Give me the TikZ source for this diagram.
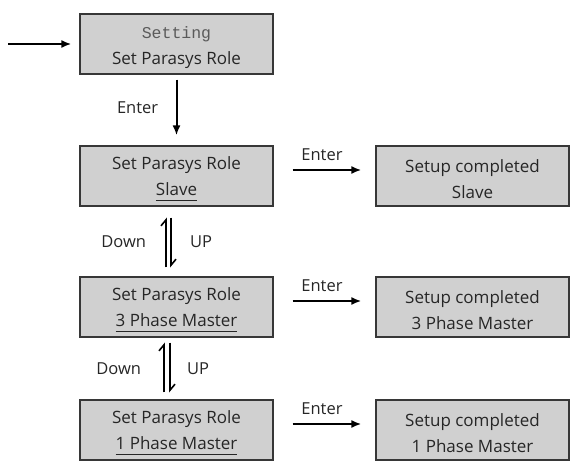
\documentclass[tikz,border=0pt]{standalone}
\usepackage{fontspec}
\setmainfont{Open Sans}
\newfontfamily\lcdfont{Liberation Mono}
\usetikzlibrary{arrows.meta,positioning}
\definecolor{panel}{RGB}{208,208,208}
\definecolor{frame}{RGB}{55,55,55}
\definecolor{lcdgray}{RGB}{90,90,90}
\newcommand{\rolesel}[1]{\underline{#1\vphantom{gp}}}
\newcommand{\toprow}{\rule{0pt}{18.5pt}}

\begin{document}
\begin{tikzpicture}[x=1pt,y=-1pt,
  menu/.style={draw=frame,line width=1.2pt,fill=panel,minimum width=193pt,minimum height=60pt,
               inner sep=0pt,align=center,font=\fontsize{17}{26}\selectfont,text=black!85},
  go/.style={-{Latex[length=10pt,width=8pt]},line width=2pt},
  flip/.style={-{Straight Barb[harpoon,length=6pt,width=10pt]},line width=1.6pt},
  lbl/.style={font=\fontsize{16.5}{18}\selectfont,text=black!85}]

  \useasboundingbox (0,0) rectangle (579,471);

  % menu column
  \node[menu] (setting) at (176.5,44)  {\toprow{\lcdfont\fontsize{16.5}{26}\selectfont\color{lcdgray}Setting}\\Set Parasys Role};
  \node[menu] (slave)   at (176.5,176) {\toprow Set Parasys Role\\\rolesel{Slave}};
  \node[menu] (three)   at (176.5,307) {\toprow Set Parasys Role\\\rolesel{3 Phase Master}};
  \node[menu] (one)     at (176.5,430) {\toprow Set Parasys Role\\\rolesel{1 Phase Master}};

  % result column
  \node[menu] (doneslave) at (472.5,176) {\toprow Setup completed\\Slave};
  \node[menu] (donethree) at (472.5,307) {\toprow Setup completed\\3 Phase Master};
  \node[menu] (doneone)   at (472.5,430) {\toprow Setup completed\\1 Phase Master};

  \coordinate (entry) at (8,44);
  \draw[go] (entry) -- ([xshift=-8pt]setting.west);
  \draw[go] ([yshift=-5pt]setting.south) -- ([yshift=10pt]slave.north)
        node[midway,left=14pt,lbl] {Enter};

  \draw[go] ([xshift=19pt,yshift=6pt]slave.east) -- ([xshift=-14pt,yshift=6pt]doneslave.west)
        node[midway,above=5pt,xshift=-5pt,lbl] {Enter};
  \draw[go] ([xshift=19pt,yshift=6pt]three.east) -- ([xshift=-14pt,yshift=6pt]donethree.west)
        node[midway,above=5pt,xshift=-5pt,lbl] {Enter};
  \draw[go] ([xshift=19pt,yshift=6pt]one.east) -- ([xshift=-14pt,yshift=6pt]doneone.west)
        node[midway,above=5pt,xshift=-5pt,lbl] {Enter};

  % up / down between roles
  \draw[flip] ([xshift=-10.5pt,yshift=9pt]three.north) -- ([xshift=-10.5pt,yshift=-11pt]slave.south);
  \draw[flip] ([xshift=-5.5pt,yshift=-11pt]slave.south) -- ([xshift=-5.5pt,yshift=9pt]three.north);
  \draw[flip] ([xshift=-12.5pt,yshift=7pt]one.north) -- ([xshift=-12.5pt,yshift=-5pt]three.south);
  \draw[flip] ([xshift=-6.5pt,yshift=-5pt]three.south) -- ([xshift=-6.5pt,yshift=7pt]one.north);

  \path (slave.south) -- (three.north) coordinate[midway] (swapa);
  \path (three.south) -- (one.north) coordinate[midway] (swapb);
  \node[lbl,left=27pt]  (downa) at (swapa) {Down};
  \node[lbl,right=10pt] (upa)   at (swapa) {UP};
  \node[lbl,left=32pt]  (downb) at (swapb) {Down};
  \node[lbl,right=7pt]  (upb)   at (swapb) {UP};

\end{tikzpicture}
\end{document}
